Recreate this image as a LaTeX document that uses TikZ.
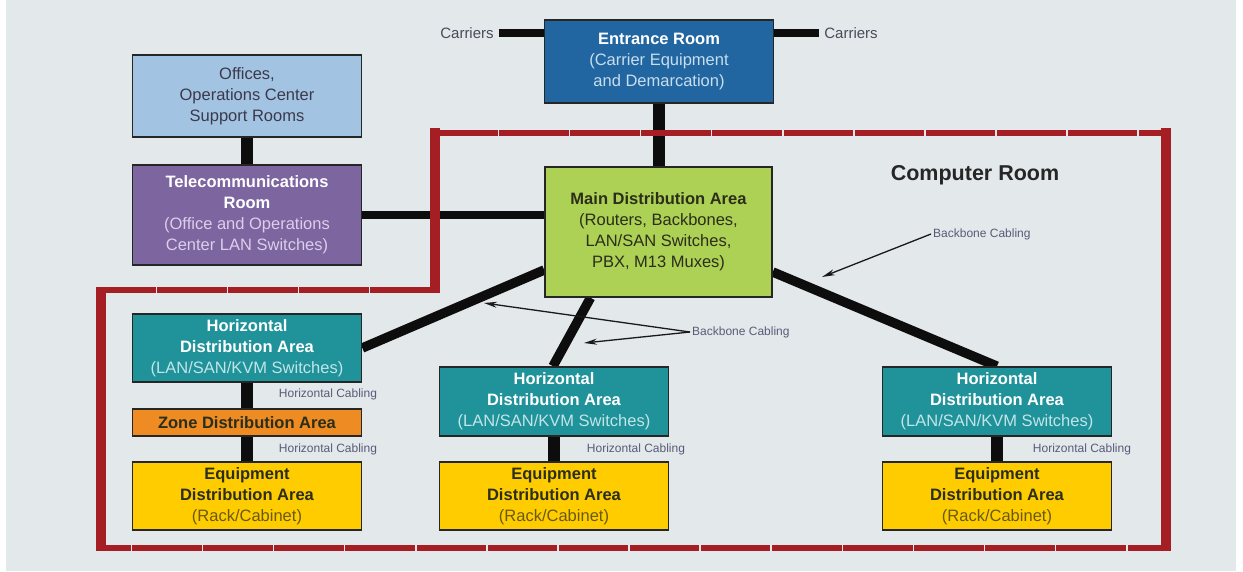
\documentclass[tikz,border=0pt]{standalone}
\usepackage{fontspec}
\setmainfont{Liberation Sans}
\usetikzlibrary{arrows.meta,calc}
\pgfdeclarelayer{back}
\pgfsetlayers{back,main}
\definecolor{bgc}{HTML}{E3E8EB}
\definecolor{entc}{HTML}{2166A0}
\definecolor{entsub}{HTML}{C8DDEE}
\definecolor{offc}{HTML}{A3C3E3}
\definecolor{offtxt}{HTML}{3A3A4A}
\definecolor{telc}{HTML}{7D65A0}
\definecolor{telsub}{HTML}{DCCFEA}
\definecolor{mdac}{HTML}{ADD155}
\definecolor{darktxt}{HTML}{2A2E1A}
\definecolor{hdac}{HTML}{1F929A}
\definecolor{hdasub}{HTML}{C2E5E8}
\definecolor{zdac}{HTML}{EE8B22}
\definecolor{edac}{HTML}{FFCC00}
\definecolor{edasub}{HTML}{6A5A10}
\definecolor{redc}{HTML}{A51E24}
\definecolor{lbl}{HTML}{5A5A78}
\definecolor{carc}{HTML}{4A4A5A}
\newcommand{\bfs}{\fontsize{16.5}{21}\selectfont}
\newcommand{\wt}[1]{\textbf{\textcolor{white}{#1}}}
\newcommand{\dk}[1]{\textbf{\textcolor{darktxt}{#1}}}
\begin{document}
\begin{tikzpicture}[x=1pt,y=-1pt,
  box/.style={draw=black!85,line width=1.6pt,inner sep=0pt,minimum width=229pt,align=center,font=\bfs},
  vwire/.style={line width=12pt,black!95},
  hwire/.style={line width=8pt,black!95},
  bwire/.style={line width=9.5pt,black!95},
  small/.style={font=\fontsize{12}{14}\selectfont,text=lbl,inner sep=0pt},
  pointer/.style={line width=1.3pt,black!90,-{Stealth[length=13pt,width=6pt]}},
  redv/.style={line width=10.5pt,redc},
  redh/.style={line width=6pt,redc,dash pattern=on 69.5pt off 1.6pt}]
\useasboundingbox (0,0) rectangle (1243,571);
\begin{pgfonlayer}{back}
\fill[white] (0,0) rectangle (1243,571);
\fill[bgc] (6,0) rectangle (1236,571);
\end{pgfonlayer}

% nodes
\node[box,fill=entc,minimum height=83pt,text=entsub] (entr) at (659,61.5)
  {\wt{Entrance Room}\\(Carrier Equipment\\and Demarcation)};
\node[box,fill=offc,minimum height=82pt,text=offtxt] (off) at (247,96)
  {Offices,\\Operations Center\\Support Rooms};
\node[box,fill=telc,minimum height=100pt,text=telsub] (tel) at (247,215)
  {\wt{Telecommunications}\\\wt{Room}\\(Office and Operations\\Center LAN Switches)};
\node[box,fill=mdac,minimum height=130pt,minimum width=227pt,text=darktxt] (mda) at (658.5,232)
  {\dk{Main Distribution Area}\\(Routers, Backbones,\\LAN/SAN Switches,\\PBX, M13 Muxes)};
\node[box,fill=hdac,minimum height=68pt,text=hdasub] (hda1) at (247,348)
  {\wt{Horizontal}\\\wt{Distribution Area}\\(LAN/SAN/KVM Switches)};
\node[box,fill=zdac,minimum height=27pt,text=darktxt] (zda) at (247,422.5)
  {\dk{Zone Distribution Area}};
\node[box,fill=edac,minimum height=68pt,text=edasub] (eda1) at (247,496)
  {\dk{Equipment}\\\dk{Distribution Area}\\(Rack/Cabinet)};
\node[box,fill=hdac,minimum height=69pt,text=hdasub] (hda2) at (554,401.5)
  {\wt{Horizontal}\\\wt{Distribution Area}\\(LAN/SAN/KVM Switches)};
\node[box,fill=edac,minimum height=68pt,text=edasub] (eda2) at (554,496)
  {\dk{Equipment}\\\dk{Distribution Area}\\(Rack/Cabinet)};
\node[box,fill=hdac,minimum height=69pt,text=hdasub] (hda3) at (997,401.5)
  {\wt{Horizontal}\\\wt{Distribution Area}\\(LAN/SAN/KVM Switches)};
\node[box,fill=edac,minimum height=68pt,text=edasub] (eda3) at (997,496)
  {\dk{Equipment}\\\dk{Distribution Area}\\(Rack/Cabinet)};

% labels
\node[font=\fontsize{15}{17}\selectfont,text=carc,inner sep=5pt] (car1) at (467,33) {Carriers};
\node[font=\fontsize{15}{17}\selectfont,text=carc,inner sep=5pt] (car2) at (851,33) {Carriers};
\node[font=\bfseries\fontsize{21.5}{24}\selectfont,text=black!85] (croom) at (975,175) {Computer Room};
\node[small] (hc1) at (328,394) {Horizontal Cabling};
\node[small] (hc2) at (328,449) {Horizontal Cabling};
\node[small] (hc3) at (636,449) {Horizontal Cabling};
\node[small] (hc4) at (1082,449) {Horizontal Cabling};
\node[small,anchor=west,inner sep=2pt] (bb1) at (931,234) {Backbone Cabling};
\node[small,anchor=west,inner sep=2pt] (bb2) at (690,332) {Backbone Cabling};
\coordinate (t1) at (822,277);
\coordinate (t2) at (484,303);
\coordinate (t3) at (584,343);

% connectors
\begin{pgfonlayer}{back}
\draw[hwire] (car1.east) -- (car1.east -| entr.west);
\draw[hwire] (car2.west) -- (car2.west -| entr.east);
\draw[vwire] (entr.south) -- (entr.south |- mda.north);
\draw[vwire] (off.south) -- (tel.north);
\draw[hwire] (tel.east) -- (tel.east -| mda.west);
\draw[vwire] (hda1.south) -- (zda.north);
\draw[vwire] (zda.south) -- (eda1.north);
\draw[vwire] (hda2.south) -- (eda2.north);
\draw[vwire] (hda3.south) -- (eda3.north);
\draw[bwire] ($(mda.west)+(0,38)$) -- (hda1.east);
\draw[bwire] ($(mda.south)+(-68,0)$) -- ($(hda2.north)+(-1,0)$);
\draw[bwire] ($(mda.east)+(0,40)$) -- (hda3.north);
\end{pgfonlayer}

\draw[pointer] (bb1.west) -- (t1);
\draw[pointer] (bb2.west) -- (t2);
\draw[pointer] (bb2.west) -- (t3);

% computer room boundary
\draw[redv] (435,128) -- (435,293);
\draw[redv] (101,287) -- (101,551);
\draw[redv] (1166,128) -- (1166,551);
\draw[redh,dash phase=2pt] (430,133) -- (1171,133);
\draw[redh,dash phase=10pt] (96,290) -- (440,290);
\draw[redh,dash phase=35pt] (96,548) -- (1171,548);
\end{tikzpicture}
\end{document}
